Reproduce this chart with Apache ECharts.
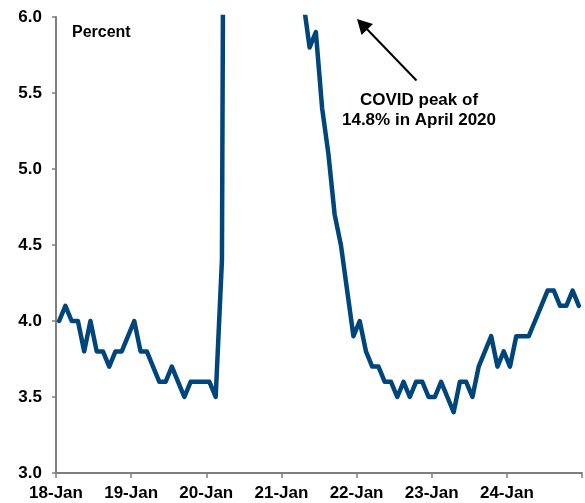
<!DOCTYPE html>
<html>
<head>
<meta charset="utf-8">
<script src="https://cdn.jsdelivr.net/npm/echarts@6/dist/echarts.min.js"></script>
<style>
  html, body { margin: 0; padding: 0; background: #fff; }
  #chart { width: 585px; height: 503px; }
</style>
</head>
<body>
<div id="chart"></div>
<script>
// Monthly unemployment rate, Jan 2018 – Dec 2024 (percent)
const rate2018 = [4.0, 4.1, 4.0, 4.0, 3.8, 4.0, 3.8, 3.8, 3.7, 3.8, 3.8, 3.9];
const rate2019 = [4.0, 3.8, 3.8, 3.7, 3.6, 3.6, 3.7, 3.6, 3.5, 3.6, 3.6, 3.6];
const rate2020 = [3.6, 3.5, 4.4, 14.8, 13.2, 11.0, 10.2, 8.4, 7.8, 6.8, 6.7, 6.7];
const rate2021 = [6.4, 6.2, 6.1, 6.1, 5.8, 5.9, 5.4, 5.1, 4.7, 4.5, 4.2, 3.9];
const rate2022 = [4.0, 3.8, 3.7, 3.7, 3.6, 3.6, 3.5, 3.6, 3.5, 3.6, 3.6, 3.5];
const rate2023 = [3.5, 3.6, 3.5, 3.4, 3.6, 3.6, 3.5, 3.7, 3.8, 3.9, 3.7, 3.8];
const rate2024 = [3.7, 3.9, 3.9, 3.9, 4.0, 4.1, 4.2, 4.2, 4.1, 4.1, 4.2, 4.1];

const years = ['18', '19', '20', '21', '22', '23', '24'];
const yTicks = [3.0, 3.5, 4.0, 4.5, 5.0, 5.5, 6.0];

const rates = [].concat(rate2018, rate2019, rate2020, rate2021, rate2022, rate2023, rate2024);
// each month plotted at its mid-point; ticks sit at the start of each January
const points = rates.map((v, i) => [i + 0.5, v]);

const axisGray = '#7f7f7f';
const labelFont = { fontFamily: 'Liberation Sans, Arial, sans-serif', fontWeight: 'bold', fontSize: 17, color: '#000' };

const chart = echarts.init(document.getElementById('chart'));
chart.setOption({
  animation: false,
  grid: { left: 56, right: 1, top: 17, bottom: 30, containLabel: false },
  xAxis: {
    type: 'value',
    min: 0,
    max: 84,
    interval: 12,
    axisLine: { show: true, lineStyle: { color: axisGray, width: 2 } },
    axisTick: { show: true, length: 5, lineStyle: { color: axisGray, width: 1.5 } },
    splitLine: { show: false },
    axisLabel: Object.assign({
      margin: 12,
      formatter: v => {
        const k = Math.round(v / 12);
        return k < years.length ? years[k] + '-Jan' : '';
      }
    }, labelFont)
  },
  yAxis: {
    type: 'value',
    min: yTicks[0],
    max: yTicks[yTicks.length - 1],
    interval: 0.5,
    axisLine: { show: true, lineStyle: { color: axisGray, width: 2 } },
    axisTick: { show: true, length: 4, lineStyle: { color: axisGray, width: 1.5 } },
    splitLine: { show: false },
    axisLabel: Object.assign({
      margin: 14,
      formatter: v => v.toFixed(1)
    }, labelFont)
  },
  series: [{
    type: 'line',
    data: points,
    showSymbol: false,
    clip: true,
    lineStyle: { color: '#00457C', width: 4.5, join: 'round', cap: 'round' }
  }],
  graphic: [
    {
      type: 'text', left: 72, top: 25,
      style: { text: 'Percent', font: 'bold 16px "Liberation Sans", Arial, sans-serif', fill: '#000' }
    },
    {
      type: 'text', x: 419, y: 91,
      style: {
        text: 'COVID peak of\n14.8% in April 2020',
        font: 'bold 17px "Liberation Sans", Arial, sans-serif',
        fill: '#000', align: 'center', lineHeight: 19.5
      }
    },
    {
      type: 'line',
      shape: { x1: 416.5, y1: 80.5, x2: 364, y2: 26 },
      style: { stroke: '#000', lineWidth: 2 }
    },
    {
      type: 'polygon',
      shape: { points: [[357, 19], [361.5, 35], [373, 24]] },
      style: { fill: '#000' }
    }
  ]
});
</script>
</body>
</html>
